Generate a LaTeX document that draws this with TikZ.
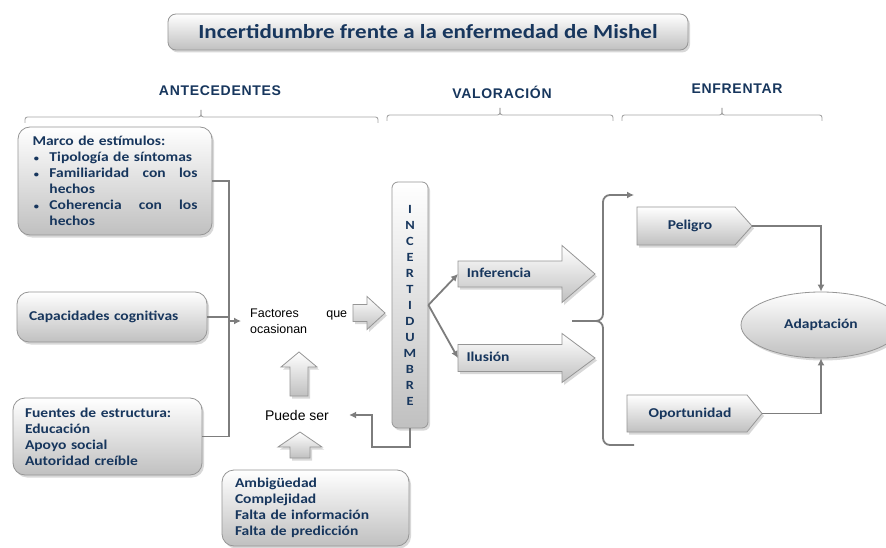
\documentclass[tikz,border=0pt]{standalone}
\usepackage{fontspec}
\usetikzlibrary{shapes.geometric,shadows,arrows.meta}
\newfontfamily\calb[FakeStretch=1.15]{Carlito}
\newfontfamily\arl{Liberation Sans}
\newfontfamily\arlsp[LetterSpace=5]{Liberation Sans}
\definecolor{navy}{RGB}{23,54,93}
\definecolor{lingray}{RGB}{125,125,125}
\definecolor{bordgray}{RGB}{150,150,150}
\definecolor{botgray}{RGB}{192,192,192}
\definecolor{bracegray}{RGB}{165,165,165}
\tikzset{
 shd/.style={drop shadow={opacity=0.3, shadow xshift=2pt, shadow yshift=-2.5pt}},
 rbox/.style={draw=bordgray, line width=0.8pt, rounded corners=12pt, top color=white, bottom color=botgray, shd},
 bt/.style={font=\calb\bfseries\fontsize{13.5}{16}\selectfont, text=navy},
 hd/.style={font=\arlsp\bfseries\fontsize{14}{16}\selectfont, text=navy},
 plaintxt/.style={font=\arl\fontsize{12.5}{16}\selectfont, text=black},
 conn/.style={draw=lingray, line width=1.8pt},
 arr/.style={-{Latex[length=7pt,width=7pt]}},
 blk/.style={draw=bordgray, line width=0.8pt, top color=white, bottom color=botgray, shd},
 topbrace/.style={draw=bracegray, line width=0.9pt, rounded corners=2.5pt},
}
% right block arrow: name, xtail, xtip, yc, shafthalf, headhalf, headlen
\newcommand\blockarrowR[7]{%
 \path[blk] (#2,#4+#5) -- (#3-#7,#4+#5) -- (#3-#7,#4+#6) -- (#3,#4) -- (#3-#7,#4-#6) -- (#3-#7,#4-#5) -- (#2,#4-#5) -- cycle;
 \coordinate (#1) at (#2,#4);}
% up block arrow: name, xc, ytail, ytip, shafthalf, headhalf, headlen
\newcommand\blockarrowU[7]{%
 \path[blk] (#2-#5,#3) -- (#2-#5,#4-#7) -- (#2-#6,#4-#7) -- (#2,#4) -- (#2+#6,#4-#7) -- (#2+#5,#4-#7) -- (#2+#5,#3) -- cycle;
 \coordinate (#1) at (#2,#3);}
% pentagon: name, x1, xtip, ytop, ybot, headlen
\newcommand\pentabox[6]{%
 \path[blk] (#2,#4) -- (#3-#6,#4) -- (#3,{(#4+#5)/2}) -- (#3-#6,#5) -- (#2,#5) -- cycle;
 \coordinate (#1) at (#3,{(#4+#5)/2});}
% top brace: x1, xmid, x2, yh
\newcommand\topbr[4]{%
 \draw[topbrace] (#1,#4-6) -- (#1,#4) -- (#2,#4) -- (#2,#4+7);
 \draw[topbrace] (#3,#4-6) -- (#3,#4) -- (#2,#4) -- (#2,#4+7);}
\newcommand\bul[1]{\leavevmode\hbox to 165pt{\hbox to 17pt{\hskip1.5pt{\fontsize{9}{9}\selectfont\textbullet}\hfil}#1}}
\newcommand\indl[1]{\leavevmode\hbox to 165pt{\hskip17pt #1\hfil}}
\newcommand\fullline[1]{\leavevmode\hbox to 97pt{#1}}
\begin{document}
\begin{tikzpicture}[x=1pt,y=1pt]
\useasboundingbox (0,0) rectangle (886,-548);
\fill[white] (0,0) rectangle (886,-548);

% title
\node[rbox, rounded corners=8pt, minimum width=520pt, minimum height=36pt,
  font=\calb\bfseries\fontsize{20}{22}\selectfont, text=navy] (title) at (428,-32)
  {Incertidumbre frente a la enfermedad de Mishel};

% headers
\node[hd] (ant) at (220,-91) {ANTECEDENTES};
\node[hd] (val) at (502,-92) {VALORACIÓN};
\node[hd] (enf) at (737,-89) {ENFRENTAR};
\topbr{25}{201}{378}{-117}
\topbr{387}{500}{613}{-115}
\topbr{622}{722}{822}{-115}

% left boxes
\node[rbox, minimum width=194pt, minimum height=108pt, bt, text width=165pt, align=left, inner sep=0pt] (marco) at (115,-181)
 {Marco de estímulos:\\
  \bul{Tipología de síntomas\hfil}\\
  \bul{Familiaridad\hfill con\hfill los}\\
  \indl{hechos}\\
  \bul{Coherencia\hfill con\hfill los}\\
  \indl{hechos}};
\node[rbox, minimum width=190pt, minimum height=50pt, bt, text width=166pt, align=left, inner sep=0pt] (cap) at (112,-317)
 {Capacidades cognitivas};
\node[rbox, minimum width=189pt, minimum height=77pt, bt, text width=165pt, align=left, inner sep=0pt] (fue) at (107.5,-436.5)
 {Fuentes de estructura:\\Educación\\Apoyo social\\Autoridad creíble};
\node[rbox, minimum width=187pt, minimum height=76pt, bt, text width=161pt, align=left, inner sep=0pt] (amb) at (315.5,-508)
 {Ambigüedad\\Complejidad\\Falta de información\\Falta de predicción};

% middle texts
\node[plaintxt, anchor=west, align=left, inner xsep=9pt, inner ysep=0pt] (fac) at (241,-321)
 {\fullline{Factores\hfill que}\\ocasionan};
\node[plaintxt, font=\arl\fontsize{14}{16}\selectfont, inner xsep=20pt] (pue) at (297,-415) {Puede ser};

% block arrows
\blockarrowR{fa}{353}{385}{-313}{8.5}{16.5}{18}
\blockarrowU{up1}{299}{-396}{-352}{9}{18}{15}
\blockarrowU{up2}{300}{-458}{-432}{10}{22}{15}
\blockarrowR{inf}{458}{595}{-274}{13}{28.5}{33}
\blockarrowR{ilu}{458}{595}{-358}{13.5}{24.5}{33}
\node[bt] (inft) at (499,-273) {Inferencia};
\node[bt] (ilut) at (488,-357) {Ilusión};

% incertidumbre
\node[rbox, rounded corners=6pt, minimum width=36pt, minimum height=246pt, inner sep=0pt,
  font=\calb\bfseries\fontsize{12.5}{16}\selectfont, text=navy, align=center] (inc) at (410,-305)
 {I\\N\\C\\E\\R\\T\\I\\D\\U\\M\\B\\R\\E};

% right side
\pentabox{peltip}{637}{752}{-207}{-245}{17}
\pentabox{optip}{627}{762}{-395}{-432}{15}
\node[bt] (pelt) at (690,-226) {Peligro};
\node[bt] (opt) at (690,-413.5) {Oportunidad};
\node[ellipse, draw=bordgray, line width=0.8pt, top color=white, bottom color=botgray, shd,
  minimum width=160pt, minimum height=66pt, inner sep=0pt, bt] (adapt) at (821,-325) {Adaptación};

% connectors
\coordinate (j) at (229,-321);
\draw[conn] (marco.east) -| (j) |- (fue.east);
\draw[conn] (cap.east) -- (cap.east -| j);
\draw[conn, arr] (j) -- (fac.west);
\draw[conn, arr] (inc.south) |- (372,-447) |- (pue.east);
\draw[conn, arr] (inc.east) -- (inf);
\draw[conn, arr] (inc.east) -- (ilu);
\coordinate (bm) at (572,-321);
\coordinate (btop) at (634,-195);
\coordinate (bbot) at (634,-445);
\draw[conn, rounded corners=7pt, arr] (bm) -- (603,-321) -- (603,-195) -- (btop);
\draw[conn, rounded corners=7pt] (bm) -- (603,-321) -- (603,-445) -- (bbot);
\draw[conn, arr] (peltip) -| (adapt.north);
\draw[conn, arr] (optip) -| (adapt.south);
\end{tikzpicture}
\end{document}
